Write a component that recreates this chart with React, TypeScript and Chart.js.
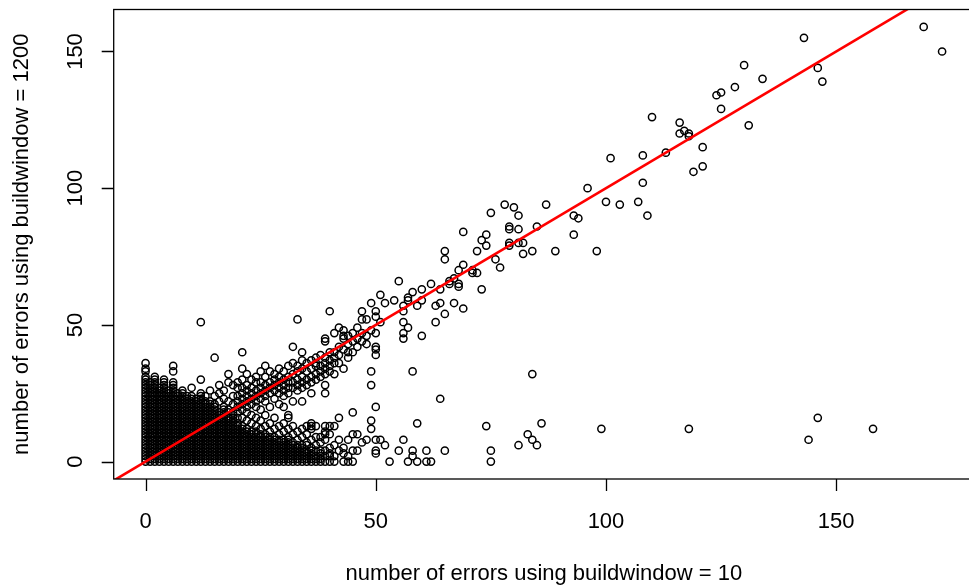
import { useEffect, useRef } from "react";
import { Chart, registerables } from "chart.js";

Chart.register(...registerables);

// Axis ticks and titles
const xTicks = [0, 50, 100, 150];
const yTicks = [0, 50, 100, 150];
const xTitle = "number of errors using buildwindow = 10";
const yTitle = "number of errors using buildwindow = 1200";

// Files with few errors: [errors at buildwindow = 10, list of errors at buildwindow = 1200]
const lowCountColumns: [number, number[]][] = [
  [0, [0, 1, 2, 3, 4, 5, 6, 7, 8, 9, 10, 11, 12, 13, 14, 15, 16, 17, 18, 19, 20, 21, 22, 23, 24, 25, 26, 27, 28, 29, 30, 31, 33, 34, 36]],
  [1, [0, 1, 2, 3, 4, 5, 6, 7, 8, 9, 10, 11, 12, 13, 14, 15, 16, 17, 18, 19, 20, 21, 22, 23, 24, 25, 26, 27, 28, 29]],
  [2, [0, 1, 2, 3, 4, 5, 6, 7, 8, 9, 10, 11, 12, 13, 14, 15, 16, 17, 18, 19, 20, 21, 22, 23, 24, 25, 26, 27, 28, 29, 30, 31]],
  [3, [0, 1, 2, 3, 4, 5, 6, 7, 8, 9, 10, 11, 12, 13, 14, 15, 16, 17, 18, 19, 20, 21, 22, 23, 24, 25, 26, 27]],
  [4, [0, 1, 2, 3, 4, 5, 6, 7, 8, 9, 10, 11, 12, 13, 14, 15, 16, 17, 18, 19, 20, 21, 22, 23, 24, 25, 26, 27, 28, 29, 30]],
  [5, [0, 1, 2, 3, 4, 5, 6, 7, 8, 9, 10, 11, 12, 13, 14, 15, 16, 17, 18, 19, 20, 21, 22, 23, 24, 25, 26]],
  [6, [0, 1, 2, 3, 4, 5, 6, 7, 8, 9, 10, 11, 12, 13, 14, 15, 16, 17, 18, 19, 20, 21, 22, 23, 24, 25, 26, 27, 28, 29, 33, 35]],
  [7, [0, 1, 2, 3, 4, 5, 6, 7, 8, 9, 10, 11, 12, 13, 14, 15, 16, 17, 18, 19, 20, 21, 22, 23, 24, 25]],
  [8, [0, 1, 2, 3, 4, 5, 6, 7, 8, 9, 10, 11, 12, 13, 14, 15, 16, 17, 18, 19, 20, 21, 22, 23, 24, 25, 26]],
  [9, [0, 1, 2, 3, 4, 5, 6, 7, 8, 9, 10, 11, 12, 13, 14, 15, 16, 17, 18, 19, 20, 21, 22, 23, 24]],
  [10, [0, 1, 2, 3, 4, 5, 6, 7, 8, 9, 10, 11, 12, 13, 14, 15, 16, 17, 18, 19, 20, 21, 22, 23, 24, 27]],
  [11, [0, 1, 2, 3, 4, 5, 6, 7, 8, 9, 10, 11, 12, 13, 14, 15, 16, 17, 18, 19, 20, 21, 22, 23]],
  [12, [0, 1, 2, 3, 4, 5, 6, 7, 8, 9, 10, 11, 12, 13, 14, 15, 16, 17, 18, 19, 20, 21, 22, 23, 24, 25, 30, 51]],
  [13, [0, 1, 2, 3, 4, 5, 6, 7, 8, 9, 10, 11, 12, 13, 14, 15, 16, 17, 18, 19, 20, 21, 22, 24]],
  [14, [0, 1, 2, 3, 4, 5, 6, 7, 8, 9, 10, 11, 12, 13, 14, 15, 16, 17, 18, 19, 20, 21, 22, 26]],
  [15, [0, 1, 2, 3, 4, 5, 6, 7, 8, 9, 10, 11, 12, 13, 14, 15, 16, 17, 18, 19, 20, 21, 24, 38]],
  [16, [0, 1, 2, 3, 4, 5, 6, 7, 8, 9, 10, 11, 12, 13, 14, 15, 16, 17, 18, 22, 25, 28]],
  [17, [0, 1, 2, 3, 4, 5, 6, 7, 8, 9, 10, 11, 12, 13, 14, 15, 16, 17, 18, 19, 20, 23, 26]],
  [18, [0, 1, 2, 3, 4, 5, 6, 7, 8, 9, 10, 11, 12, 13, 14, 15, 16, 18, 19, 22, 29, 32]],
  [19, [0, 1, 2, 3, 4, 5, 6, 7, 8, 9, 10, 11, 12, 13, 14, 15, 16, 17, 18, 21, 24, 28]],
  [20, [0, 1, 2, 3, 4, 5, 6, 7, 8, 9, 10, 11, 12, 13, 14, 16, 18, 20, 22, 24, 27, 29]],
  [21, [0, 1, 2, 3, 4, 5, 6, 7, 8, 9, 10, 11, 12, 13, 16, 19, 21, 23, 25, 27, 30, 34, 40]],
  [22, [0, 1, 2, 3, 4, 5, 6, 7, 8, 9, 10, 11, 12, 15, 18, 20, 22, 24, 26, 28, 32]],
  [23, [0, 1, 2, 3, 4, 5, 6, 7, 8, 9, 10, 11, 14, 17, 21, 23, 25, 27, 30]],
  [24, [0, 1, 2, 3, 4, 5, 6, 7, 8, 9, 10, 11, 13, 16, 20, 22, 24, 26, 29, 31]],
  [25, [0, 1, 2, 3, 4, 5, 6, 7, 8, 9, 10, 12, 15, 19, 23, 25, 27, 29, 33]],
  [26, [0, 1, 2, 3, 4, 5, 6, 7, 8, 9, 10, 13, 17, 22, 24, 26, 28, 31, 35]],
  [27, [0, 1, 2, 3, 4, 5, 6, 7, 8, 9, 11, 14, 20, 25, 27, 29, 33]],
  [28, [0, 1, 2, 3, 4, 5, 6, 7, 8, 9, 12, 16, 23, 26, 28, 30, 32]],
  [29, [0, 1, 2, 3, 4, 5, 6, 7, 8, 10, 13, 21, 25, 27, 29, 31, 34]],
  [30, [0, 1, 2, 3, 4, 5, 6, 7, 8, 11, 14, 20, 24, 26, 28, 30, 33]],
  [31, [0, 1, 2, 3, 4, 5, 6, 7, 8, 9, 12, 16, 17, 25, 27, 29, 31, 35]],
  [32, [0, 1, 2, 3, 4, 5, 6, 7, 10, 13, 22, 27, 29, 32, 36, 42]],
  [33, [0, 1, 2, 3, 4, 5, 6, 8, 11, 26, 28, 30, 33, 35, 52]],
  [34, [0, 1, 2, 3, 4, 5, 6, 9, 12, 22, 27, 29, 31, 34, 37, 40]],
  [35, [0, 1, 2, 3, 4, 6, 7, 10, 13, 28, 30, 33, 36]],
  [36, [0, 1, 2, 3, 4, 5, 8, 12, 13, 14, 25, 29, 31, 34, 37]],
  [37, [0, 1, 2, 4, 6, 9, 13, 30, 32, 35, 36, 38]],
  [38, [0, 1, 2, 3, 4, 7, 9, 31, 33, 35, 39]],
  [39, [0, 2, 4, 8, 10, 11, 13, 25, 28, 32, 34, 36, 38, 44, 45]],
  [40, [0, 2, 3, 5, 10, 13, 33, 35, 37, 40, 55]],
  [41, [0, 2, 6, 13, 32, 36, 38, 40, 47]],
  [42, [4, 8, 16, 36, 39, 42, 49]],
  [43, [0, 3, 5, 34, 41, 45, 46, 48]],
  [44, [0, 2, 8, 38, 40, 43, 46]],
  [45, [0, 4, 10, 18, 40, 44, 47]],
  [46, [4, 10, 42, 45, 49]],
  [47, [7, 44, 47, 52, 55]],
  [48, [8, 43, 46, 52]],
  [49, [12, 15, 28, 33, 48, 58]],
  [50, [3, 4, 8, 20, 39, 41, 42, 47, 53, 55]],
];

// Files with more errors (x: buildwindow = 10, y: buildwindow = 1200)
const highBw10 = [
  51, 51, 51, 52, 52, 53, 54, 55, 55, 56, 56, 56, 56, 56, 56, 57, 57, 57, 57, 58, 58, 58, 58, 59, 59, 59, 60, 60, 60,
  61, 61, 62, 62, 63, 63, 64, 64, 64, 65, 65, 65, 65, 66, 66, 67, 67, 68, 68, 68, 69, 69, 69, 71, 71, 72, 72, 73, 73,
  74, 74, 74, 75, 75, 75, 76, 77, 78, 79, 79, 79, 79, 80, 81, 81, 81, 81, 82, 82, 83, 84, 84, 84, 85, 85, 86, 87, 89,
  93, 93, 94, 96, 98, 99, 100, 101, 103, 107, 108, 108, 109, 110, 113, 116, 116, 117, 118, 118, 118, 119, 121, 121,
  124, 125, 125, 128, 130, 131, 134, 143, 144, 146, 146, 147, 158, 169, 173,
];
const highBw1200 = [
  61, 51, 8, 58, 6, 0, 59, 66, 4, 57, 55, 51, 47, 45, 8, 60, 49, 0, 59, 62, 33, 4, 2, 57, 14, 0, 63, 59, 46,
  4, 0, 65, 0, 57, 51, 63, 58, 23, 77, 74, 54, 4, 66, 65, 67, 58, 70, 65, 64, 84, 72, 56, 70, 69, 77, 69, 81, 63,
  83, 79, 13, 91, 4, 0, 74, 71, 94, 86, 85, 80, 79, 93, 90, 85, 80, 6, 80, 76, 10, 77, 32, 8, 86, 6, 14, 94, 77,
  90, 83, 89, 100, 77, 12, 95, 111, 94, 95, 102, 112, 90, 126, 113, 124, 120, 121, 120, 119, 12, 106, 108, 115,
  134, 135, 129, 137, 145, 123, 140, 155, 8, 144, 16, 139, 12, 159, 150,
];

// abline(0, 1): both counts equal
const refLineX = [-10, 200];
const refLineY = [-10, 200];

// R-style plot region: data range widened by 4% on each side
const xMin = -6.92;
const xMax = 177.65;
const xPlotMid = 86.5;
const yMin = -6.36;
const yMax = 165.36;

const FONT = '22px "Liberation Sans", Arial, sans-serif';

const rStyleAxes = {
  id: "rStyleAxes",
  afterDatasetsDraw(chart: any) {
    const { ctx, chartArea: a, scales } = chart;
    const sx = scales.x;
    const sy = scales.y;
    ctx.save();
    ctx.strokeStyle = "#000";
    ctx.lineWidth = 1.3;
    // box around the plot region; its right side lies beyond the canvas
    ctx.strokeRect(a.left, a.top, 1200, a.bottom - a.top);

    ctx.beginPath();
    xTicks.forEach((v) => {
      const px = Math.round(sx.getPixelForValue(v)) + 0.5;
      ctx.moveTo(px, a.bottom);
      ctx.lineTo(px, a.bottom + 12);
    });
    yTicks.forEach((v) => {
      const py = Math.round(sy.getPixelForValue(v)) + 0.5;
      ctx.moveTo(a.left, py);
      ctx.lineTo(a.left - 12, py);
    });
    ctx.stroke();

    ctx.fillStyle = "#000";
    ctx.font = FONT;
    ctx.textAlign = "center";
    ctx.textBaseline = "alphabetic";
    xTicks.forEach((v) => {
      ctx.fillText(String(v), sx.getPixelForValue(v), a.bottom + 49);
    });
    ctx.fillText(xTitle, sx.getPixelForValue(xPlotMid), a.bottom + 101);

    yTicks.forEach((v) => {
      ctx.save();
      ctx.translate(a.left - 32, sy.getPixelForValue(v));
      ctx.rotate(-Math.PI / 2);
      ctx.fillText(String(v), 0, 0);
      ctx.restore();
    });
    ctx.save();
    ctx.translate(a.left - 86, sy.getPixelForValue((yMin + yMax) / 2));
    ctx.rotate(-Math.PI / 2);
    ctx.fillText(yTitle, 0, 0);
    ctx.restore();

    ctx.restore();
  },
};

export default function App() {
  const canvasRef = useRef<HTMLCanvasElement | null>(null);

  useEffect(() => {
    const canvas = canvasRef.current;
    if (!canvas) return;

    const points: { x: number; y: number }[] = [];
    lowCountColumns.forEach(([x, ys]) => ys.forEach((y) => points.push({ x, y })));
    highBw10.forEach((x, i) => points.push({ x, y: highBw1200[i] }));

    const chart = new Chart(canvas, {
      type: "scatter",
      data: {
        datasets: [
          {
            type: "line",
            data: refLineX.map((x, i) => ({ x, y: refLineY[i] })),
            borderColor: "#ff0000",
            borderWidth: 2.6,
            pointRadius: 0,
            fill: false,
            order: 0,
          } as any,
          {
            data: points,
            pointRadius: 3.6,
            pointBorderWidth: 1.5,
            pointBorderColor: "#000",
            pointBackgroundColor: "rgba(0,0,0,0)",
            borderColor: "#000",
            backgroundColor: "rgba(0,0,0,0)",
            order: 1,
          },
        ],
      },
      options: {
        responsive: false,
        animation: false,
        events: [],
        layout: { padding: { left: 113.7, top: 9.5, right: 0, bottom: 108 } },
        plugins: { legend: { display: false }, tooltip: { enabled: false } },
        scales: {
          x: { type: "linear", display: false, min: xMin, max: xMax },
          y: { type: "linear", display: false, min: yMin, max: yMax },
        },
      },
      plugins: [rStyleAxes],
    });

    return () => chart.destroy();
  }, []);

  return (
    <div style={{ position: "fixed", left: 0, top: 0, width: 969, height: 587, background: "#fff" }}>
      <canvas ref={canvasRef} width={969} height={587} />
    </div>
  );
}
